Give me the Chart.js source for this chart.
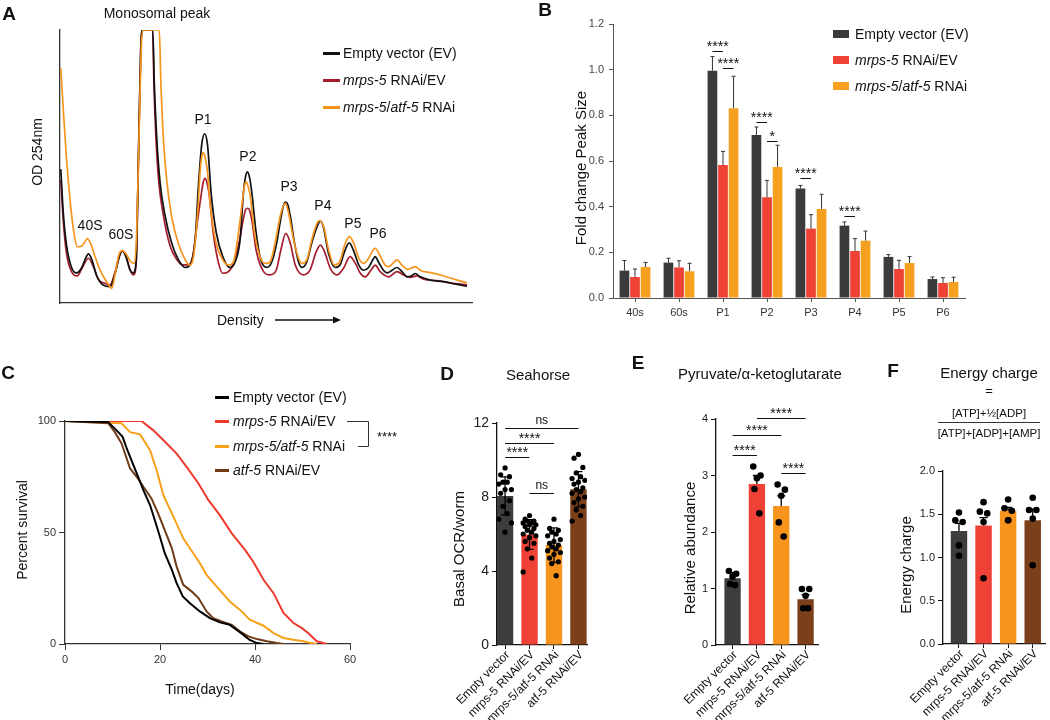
<!DOCTYPE html>
<html>
<head>
<meta charset="utf-8">
<title>Polysome / lifespan / metabolism figure</title>
<script src="https://cdn.jsdelivr.net/npm/chart.js@4.4.1/dist/chart.umd.min.js"></script>
<style>
  body { margin: 0; background: #fff; }
  #fig { position: relative; width: 1050px; height: 720px; overflow: hidden; background: #fff;
         font-family: "Liberation Sans", Arial, sans-serif; color: #111; }
  #fig canvas { position: absolute; }
  .t { position: absolute; white-space: nowrap; line-height: 1; }
  .c { transform: translate(-50%, -50%); }
  .lm { transform: translate(0, -50%); }
  .v { transform: translate(-50%, -50%) rotate(-90deg); }
  .letter { font-weight: bold; font-size: 19px; }
  .mk { position: absolute; }
  svg { position: absolute; left: 0; top: 0; }
</style>
</head>
<body>
<div id="fig">
  <canvas id="chartA" width="480" height="330" style="left:0;top:0"></canvas>
  <canvas id="chartB" width="450" height="330" style="left:530px;top:0"></canvas>
  <canvas id="chartC" width="370" height="370" style="left:0;top:340px"></canvas>
  <canvas id="chartD" width="170" height="320" style="left:430px;top:400px"></canvas>
  <canvas id="chartE" width="180" height="325" style="left:650px;top:395px"></canvas>
  <canvas id="chartF" width="180" height="260" style="left:870px;top:460px"></canvas>

  <svg width="1050" height="720">
    <!-- density arrow -->
    <line x1="275" y1="320" x2="335" y2="320" stroke="#111" stroke-width="1.5"/>
    <polygon points="333,316.5 341,320 333,323.5" fill="#111"/>
    <!-- lifespan bracket -->
    <polyline points="347,421.5 368.5,421.5 368.5,446.5 358,446.5" fill="none" stroke="#333" stroke-width="1"/>
  </svg>

  <!-- A -->
  <div class="t c letter" style="left:9px;top:13px">A</div>
  <div class="t c" style="left:157px;top:13px;font-size:14px">Monosomal peak</div>
  <div class="t v" style="left:37px;top:152px;font-size:14px">OD 254nm</div>
  <div class="t lm" style="left:217px;top:320px;font-size:14px">Density</div>
  <div class="mk" style="left:323px;top:51.5px;width:17px;height:3px;background:#111"></div>
  <div class="t lm" style="left:343px;top:53px;font-size:14px">Empty vector (EV)</div>
  <div class="mk" style="left:323px;top:78.5px;width:17px;height:3px;background:#a51d2d"></div>
  <div class="t lm" style="left:343px;top:80px;font-size:14px"><i>mrps-5</i> RNAi/EV</div>
  <div class="mk" style="left:323px;top:105.5px;width:17px;height:3px;background:#f7941d"></div>
  <div class="t lm" style="left:343px;top:107px;font-size:14px"><i>mrps-5</i>/<i>atf-5</i> RNAi</div>

  <!-- B -->
  <div class="t c letter" style="left:545px;top:9px">B</div>
  <div class="t v" style="left:580px;top:168px;font-size:15px">Fold change Peak Size</div>
  <div class="mk" style="left:833px;top:30px;width:16px;height:8px;background:#3b3b3b"></div>
  <div class="t lm" style="left:855px;top:34px;font-size:14px">Empty vector (EV)</div>
  <div class="mk" style="left:833px;top:56px;width:16px;height:8px;background:#ef4136"></div>
  <div class="t lm" style="left:855px;top:60px;font-size:14px"><i>mrps-5</i> RNAi/EV</div>
  <div class="mk" style="left:833px;top:82px;width:16px;height:8px;background:#f5a11f"></div>
  <div class="t lm" style="left:855px;top:86px;font-size:14px"><i>mrps-5</i>/<i>atf-5</i> RNAi</div>

  <!-- C -->
  <div class="t c letter" style="left:8px;top:372px">C</div>
  <div class="t v" style="left:22px;top:530px;font-size:14px">Percent survival</div>
  <div class="t c" style="left:200px;top:689px;font-size:14px">Time(days)</div>
  <div class="mk" style="left:215px;top:395.5px;width:14px;height:3px;background:#000"></div>
  <div class="t lm" style="left:233px;top:397px;font-size:14px">Empty vector (EV)</div>
  <div class="mk" style="left:215px;top:419.5px;width:14px;height:3px;background:#ee3a2e"></div>
  <div class="t lm" style="left:233px;top:421px;font-size:14px"><i>mrps-5</i> RNAi/EV</div>
  <div class="mk" style="left:215px;top:444.5px;width:14px;height:3px;background:#f7a01a"></div>
  <div class="t lm" style="left:233px;top:446px;font-size:14px"><i>mrps-5/atf-5</i> RNAi</div>
  <div class="mk" style="left:215px;top:468.5px;width:14px;height:3px;background:#6f3b17"></div>
  <div class="t lm" style="left:233px;top:470px;font-size:14px"><i>atf-5</i> RNAi/EV</div>
  <div class="t c" style="left:387px;top:436px;font-size:13px">****</div>

  <!-- D -->
  <div class="t c letter" style="left:447px;top:373px">D</div>
  <div class="t c" style="left:538px;top:374px;font-size:15px">Seahorse</div>
  <div class="t v" style="left:458px;top:549px;font-size:15px">Basal OCR/worm</div>

  <!-- E -->
  <div class="t c letter" style="left:638px;top:362px">E</div>
  <div class="t c" style="left:760px;top:373px;font-size:15px">Pyruvate/α-ketoglutarate</div>
  <div class="t v" style="left:689px;top:548px;font-size:15px">Relative abundance</div>

  <!-- F -->
  <div class="t c letter" style="left:893px;top:370px">F</div>
  <div class="t c" style="left:989px;top:372px;font-size:15px">Energy charge</div>
  <div class="t c" style="left:989px;top:390px;font-size:13px">=</div>
  <div class="t c" style="left:989px;top:414px;font-size:11.5px">[ATP]+½[ADP]</div>
  <div class="mk" style="left:938px;top:422px;width:102px;height:1px;background:#333"></div>
  <div class="t c" style="left:989px;top:434px;font-size:11.5px">[ATP]+[ADP]+[AMP]</div>
  <div class="t v" style="left:905px;top:565px;font-size:15px">Energy charge</div>
</div>

<script>
// ---------- data ----------
// A: polysome profiles, [density %, OD254 normalised to the clipped monosome peak]
const profileEV = [[0.2,0.49],[0.8,0.33],[1.6,0.21],[2.8,0.13],[4.0,0.11],[5.3,0.13],[6.1,0.16],[6.9,0.18],[7.7,0.16],[8.9,0.10],[10.1,0.07],[12.2,0.06],[13.4,0.11],[14.6,0.18],[15.2,0.19],[16.0,0.17],[17.0,0.12],[17.8,0.11],[18.5,0.16],[19.0,0.50],[19.6,0.93],[20.1,1],[22.5,1],[22.9,0.80],[23.5,0.60],[24.3,0.44],[25.5,0.32],[27.1,0.22],[28.7,0.16],[30.4,0.13],[31.6,0.14],[32.8,0.23],[33.6,0.43],[34.4,0.58],[35.1,0.62],[35.8,0.58],[36.7,0.40],[37.9,0.26],[39.5,0.17],[41.3,0.13],[42.5,0.15],[43.7,0.23],[44.5,0.40],[45.0,0.46],[45.5,0.48],[46.0,0.46],[46.6,0.40],[47.5,0.27],[48.7,0.16],[50.2,0.13],[51.4,0.15],[52.6,0.22],[53.6,0.31],[54.3,0.36],[54.8,0.37],[55.3,0.36],[56.0,0.31],[56.8,0.23],[57.9,0.15],[58.7,0.13],[59.9,0.15],[61.1,0.22],[62.4,0.28],[63.2,0.30],[63.9,0.28],[65.2,0.18],[66.8,0.13],[68.0,0.14],[69.1,0.19],[70.2,0.22],[71.3,0.19],[72.5,0.14],[73.7,0.12],[74.9,0.13],[76.0,0.16],[76.5,0.17],[77.3,0.15],[78.5,0.12],[79.4,0.11],[80.6,0.12],[81.8,0.13],[83.0,0.115],[84.2,0.096],[85.4,0.10],[86.2,0.108],[87.5,0.096],[89.9,0.084],[93.1,0.078],[96.4,0.068],[98.8,0.062]];
const profileMrps5 = [[0.2,0.45],[0.8,0.30],[1.6,0.18],[2.8,0.115],[4.2,0.099],[5.5,0.133],[6.9,0.164],[8.1,0.133],[9.3,0.087],[10.9,0.072],[12.1,0.066],[13.4,0.115],[14.6,0.18],[15.2,0.192],[16.0,0.172],[17.2,0.115],[17.8,0.103],[18.5,0.145],[19.0,0.50],[19.6,0.93],[20.1,1],[22.5,1],[22.8,0.80],[23.3,0.60],[24.0,0.44],[25.1,0.32],[26.7,0.21],[28.3,0.16],[29.8,0.14],[31.2,0.14],[32.2,0.17],[33.2,0.28],[34.3,0.40],[34.8,0.445],[35.2,0.457],[35.6,0.445],[36.2,0.40],[37.2,0.255],[38.5,0.145],[39.5,0.109],[40.9,0.115],[42.1,0.145],[43.6,0.231],[44.4,0.30],[45.0,0.34],[45.5,0.347],[46.0,0.34],[46.6,0.30],[47.6,0.194],[49.4,0.115],[51.0,0.103],[52.5,0.121],[53.6,0.194],[54.8,0.255],[55.9,0.219],[57.1,0.139],[59.1,0.103],[60.7,0.121],[62.2,0.188],[63.2,0.212],[64.2,0.188],[65.6,0.127],[67.2,0.103],[68.8,0.127],[70.4,0.17],[71.7,0.145],[72.9,0.109],[74.1,0.096],[75.5,0.121],[76.5,0.139],[77.7,0.115],[79.8,0.096],[81.8,0.115],[83.4,0.103],[85.0,0.094],[86.6,0.099],[88.3,0.087],[91.5,0.082],[95.5,0.072],[98.8,0.066]];
const profileMrps5Atf5 = [[0.2,0.86],[0.8,0.707],[1.6,0.524],[2.6,0.353],[3.4,0.255],[4.2,0.206],[5.3,0.209],[6.1,0.225],[6.6,0.236],[7.4,0.219],[8.5,0.17],[9.7,0.121],[11.3,0.078],[12.6,0.054],[13.4,0.109],[14.4,0.182],[15.2,0.192],[16.2,0.176],[17.2,0.151],[18.0,0.145],[18.6,0.255],[19.2,0.62],[19.7,0.927],[20.1,1],[24.1,1],[24.5,0.80],[25.1,0.60],[25.9,0.45],[27.1,0.316],[28.7,0.219],[30.4,0.158],[31.4,0.139],[32.4,0.17],[33.4,0.328],[34.0,0.48],[34.4,0.535],[34.8,0.551],[35.2,0.535],[35.8,0.48],[36.5,0.353],[37.9,0.219],[39.5,0.158],[40.9,0.139],[42.1,0.151],[43.3,0.255],[44.4,0.39],[44.8,0.43],[45.2,0.444],[45.6,0.43],[46.2,0.39],[47.1,0.267],[48.4,0.176],[49.8,0.145],[51.0,0.151],[52.2,0.219],[53.6,0.328],[54.7,0.365],[55.5,0.328],[56.7,0.231],[57.9,0.164],[58.7,0.145],[59.9,0.158],[61.1,0.231],[62.3,0.289],[63.0,0.302],[64.0,0.28],[65.2,0.194],[66.6,0.139],[67.9,0.151],[69.1,0.212],[70.2,0.243],[71.3,0.219],[72.5,0.164],[73.7,0.145],[74.9,0.164],[76.0,0.194],[76.5,0.2],[77.6,0.176],[78.9,0.139],[79.8,0.133],[80.8,0.145],[81.8,0.158],[83.0,0.139],[84.4,0.123],[85.4,0.129],[86.2,0.133],[87.6,0.118],[89.9,0.111],[93.1,0.099],[96.4,0.084],[98.8,0.074]];
const peakNames = ['40S', '60S', 'P1', 'P2', 'P3', 'P4', 'P5', 'P6'];

// B: fold change of peak size (mean, upper error)
const peakGroups = ['40s', '60s', 'P1', 'P2', 'P3', 'P4', 'P5', 'P6'];
const foldEV = [0.12, 0.155, 0.995, 0.714, 0.48, 0.317, 0.18, 0.083];
const foldMrps5 = [0.092, 0.134, 0.582, 0.441, 0.304, 0.206, 0.127, 0.066];
const foldMrps5Atf5 = [0.136, 0.117, 0.831, 0.574, 0.39, 0.251, 0.153, 0.07];
const errFoldEV = [0.044, 0.019, 0.062, 0.035, 0.013, 0.016, 0.01, 0.009];
const errFoldMrps5 = [0.035, 0.029, 0.06, 0.074, 0.061, 0.054, 0.038, 0.023];
const errFoldMrps5Atf5 = [0.02, 0.035, 0.14, 0.095, 0.064, 0.042, 0.028, 0.021];

// C: survival, [day, percent]
const survEV = [[0,100],[9.1,99.5],[10.5,96.6],[12.1,93],[13.3,86],[15.1,76.5],[16.5,69],[17.9,62.3],[18.9,55.6],[20,48],[21,40.7],[22.5,33.2],[23.5,27.3],[24.8,21.3],[26.3,18.3],[28.4,14.6],[30.5,11.6],[32.6,9.7],[34.7,8.6],[36.1,6.4],[37.5,4.2],[38.8,1.9],[40.4,0.4],[41.8,0]];
const survMrps5 = [[0,100],[16.1,100],[18.6,95.8],[21.1,90.6],[23.5,85.4],[25.6,79.4],[28.1,72],[30.2,64.5],[32.6,57.8],[35.1,49.6],[37.9,42.2],[39.6,37],[41.8,28.8],[43.9,22.8],[46,13.9],[48.1,9.4],[49.8,7.2],[51.2,4.9],[53,1.2],[55.1,0]];
const survMrps5Atf5 = [[0,100],[11.9,99],[13.7,95],[15.8,94],[17.9,86.9],[19.3,77.9],[20.7,66.8],[22.5,58.6],[24.9,47.4],[27,40.7],[28.4,36.2],[29.8,31],[31.9,25.8],[34.7,19.1],[36.8,15.4],[38.9,10.9],[41.8,8.2],[43.9,4.9],[46,2.7],[48.1,1.9],[50.2,1.2],[51.9,0.4],[53,0]];
const survAtf5 = [[0,100],[9.1,99],[10.5,95],[11.9,90],[13.7,78.7],[15.1,75],[16.5,70.5],[18.2,65.3],[19.6,58.6],[21,51.1],[22.5,42.9],[23.5,34.7],[24.9,26.5],[26.7,23.5],[28.1,20.6],[29.8,14.6],[31.2,11.6],[33,10.1],[35.1,8.6],[36.8,5.7],[38.6,3.4],[40.4,2.2],[42.5,1.2],[44.6,0.4],[46,0]];

// D-F: groups
const groups = ['Empty vector', 'mrps-5 RNAi/EV', 'mrps-5/atf-5 RNAi', 'atf-5 RNAi/EV'];

// D: basal OCR per worm
const ocrMean = [8.06, 5.97, 5.4, 8.42];
const ocrSD = [1.03, 0.8, 0.93, 0.95];
const ocrEV = [9.57, 9.2, 9.1, 8.8, 8.8, 8.7, 8.4, 8.4, 8.2, 7.8, 7.5, 7.1, 6.8, 6.6, 6.1];
const ocrMrps5 = [7.0, 6.8, 6.7, 6.7, 6.6, 6.6, 6.5, 6.5, 6.4, 6.3, 6.2, 6.1, 6.0, 5.9, 5.8, 5.6, 5.5, 5.2, 4.7, 3.95];
const ocrMrps5Atf5 = [6.8, 6.3, 6.2, 6.1, 6.0, 5.9, 5.7, 5.6, 5.5, 5.4, 5.3, 5.2, 5.1, 5.0, 4.9, 4.7, 4.5, 4.4, 3.75];
const ocrAtf5 = [10.3, 10.1, 9.6, 9.3, 9.1, 9.0, 8.9, 8.8, 8.7, 8.5, 8.4, 8.3, 8.2, 8.0, 7.9, 7.7, 7.5, 7.3, 7.0, 6.7];

// E: pyruvate / alpha-ketoglutarate
const pyrMean = [1.18, 2.85, 2.46, 0.81];
const pyrSEM = [0.10, 0.15, 0.18, 0.08];
const pyrEV = [1.31, 1.26, 1.21, 1.08, 1.06];
const pyrMrps5 = [3.16, 3.0, 2.95, 2.76, 2.33];
const pyrMrps5Atf5 = [2.84, 2.75, 2.64, 2.17, 1.92];
const pyrAtf5 = [0.99, 0.99, 0.87, 0.65, 0.65];

// F: energy charge
const ecMean = [1.305, 1.37, 1.54, 1.43];
const ecSEM = [0.09, 0.09, 0.04, 0.13];
const ecEV = [1.52, 1.43, 1.41, 1.14, 1.02];
const ecMrps5 = [1.64, 1.53, 1.51, 1.41, 0.76];
const ecMrps5Atf5 = [1.67, 1.57, 1.54, 1.43, 1.43];
const ecAtf5 = [1.69, 1.55, 1.55, 1.45, 0.91];

// ---------- shared ----------
const FAM = '"Liberation Sans", Arial, sans-serif';
Chart.defaults.font.family = FAM;
Chart.defaults.color = '#222';
const groupColors = ['#3d3d3d', '#ef4136', '#f7941d', '#7b4019'];
const xy = arr => arr.map(p => ({ x: p[0], y: p[1] }));
const fixW = w => s => { s.width = w; };
const fixH = h => s => { s.height = h; };
const noLegend = { legend: { display: false }, tooltip: { enabled: false } };

// error bars on bar datasets
const errorBars = {
  id: 'errorBars',
  afterDatasetsDraw(chart, args, opts) {
    const ctx = chart.ctx, y = chart.scales.y;
    (opts.sets || []).forEach(s => {
      const meta = chart.getDatasetMeta(s.ds);
      const vals = chart.data.datasets[s.ds].data;
      ctx.save();
      ctx.strokeStyle = s.color; ctx.lineWidth = s.width;
      meta.data.forEach((bar, i) => {
        const v = typeof vals[i] === 'object' ? vals[i].y : vals[i];
        const top = y.getPixelForValue(v + s.err[i]);
        const bot = s.both ? y.getPixelForValue(v - s.err[i]) : bar.y;
        ctx.beginPath();
        ctx.moveTo(bar.x, bot); ctx.lineTo(bar.x, top);
        ctx.moveTo(bar.x - s.cap, top); ctx.lineTo(bar.x + s.cap, top);
        if (s.both) { ctx.moveTo(bar.x - s.cap, bot); ctx.lineTo(bar.x + s.cap, bot); }
        ctx.stroke();
      });
      ctx.restore();
    });
  }
};

// significance lines between two bars
const sigMarks = {
  id: 'sigMarks',
  afterDraw(chart, args, opts) {
    if (!opts.items) return;
    const ctx = chart.ctx, y = chart.scales.y;
    ctx.save();
    ctx.strokeStyle = '#111'; ctx.fillStyle = '#111'; ctx.lineWidth = 1;
    ctx.textAlign = 'center'; ctx.textBaseline = 'alphabetic';
    opts.items.forEach(it => {
      const xa = chart.getDatasetMeta(it.a[0]).data[it.a[1]].x;
      const xb = chart.getDatasetMeta(it.b[0]).data[it.b[1]].x;
      const py = Math.round(y.getPixelForValue(it.y)) + 0.5;
      ctx.beginPath(); ctx.moveTo(xa, py); ctx.lineTo(xb, py); ctx.stroke();
      const star = it.text.includes('*');
      ctx.font = (star ? opts.starSize : opts.nsSize) + 'px ' + FAM;
      ctx.fillText(it.text, (xa + xb) / 2, py - (star ? 1 : 5));
    });
    ctx.restore();
  }
};

// 45 degree group labels (underscores would mark italic parts)
const slantLabels = {
  id: 'slantLabels',
  afterDraw(chart, args, opts) {
    if (!opts.labels) return;
    const ctx = chart.ctx, x = chart.scales.x;
    ctx.save();
    ctx.fillStyle = '#111'; ctx.textBaseline = 'middle'; ctx.textAlign = 'left';
    opts.labels.forEach((lab, i) => {
      const parts = lab.split('_').map((s, k) => ({ s, it: k % 2 === 1 }));
      const fontOf = p => (p.it ? 'italic ' : '') + opts.size + 'px ' + FAM;
      let w = 0;
      parts.forEach(p => { ctx.font = fontOf(p); w += ctx.measureText(p.s).width; });
      ctx.save();
      ctx.translate(x.getPixelForValue(i) + opts.dx, x.top + opts.dy);
      ctx.rotate(-Math.PI / 4);
      let cx = -w;
      parts.forEach(p => { ctx.font = fontOf(p); ctx.fillText(p.s, cx, 0); cx += ctx.measureText(p.s).width; });
      ctx.restore();
    });
    ctx.restore();
  }
};

// peak names in panel A
const peakText = {
  id: 'peakText',
  afterDatasetsDraw(chart, args, opts) {
    if (!opts.items) return;
    const { ctx, scales: { x, y } } = chart;
    ctx.save();
    ctx.font = '14px ' + FAM; ctx.fillStyle = '#111';
    ctx.textAlign = 'center'; ctx.textBaseline = 'middle';
    opts.items.forEach(it => ctx.fillText(it.text, x.getPixelForValue(it.at[0]), y.getPixelForValue(it.at[1])));
    ctx.restore();
  }
};

// ---------- A ----------
const profileLine = (data, color, order) => ({
  data: xy(data), borderColor: color, borderWidth: 1.7, pointRadius: 0,
  tension: 0.4, cubicInterpolationMode: 'monotone', order
});
const peakAt = [[7.3, 0.282], [14.8, 0.249], [34.7, 0.67], [45.6, 0.535], [55.6, 0.425], [63.8, 0.355], [71.1, 0.289], [77.2, 0.253]];
new Chart(document.getElementById('chartA'), {
  type: 'line',
  data: { datasets: [
    profileLine(profileMrps5Atf5, '#f7941d', 0),
    profileLine(profileEV, '#111', 1),
    profileLine(profileMrps5, '#a51d2d', 2)
  ] },
  plugins: [peakText],
  options: {
    responsive: false, animation: false,
    layout: { padding: { top: 30, right: 8, left: 0, bottom: 0 } },
    plugins: { ...noLegend, peakText: { items: peakNames.map((t, i) => ({ text: t, at: peakAt[i] })) } },
    scales: {
      x: { type: 'linear', min: 0, max: 100, grid: { display: false }, ticks: { display: false },
           border: { color: '#333', width: 1.3 }, afterFit: fixH(27) },
      y: { min: 0, max: 1, grid: { display: false }, ticks: { display: false },
           border: { color: '#333', width: 1.3 }, afterFit: fixW(60) }
    }
  }
});

// ---------- B ----------
const barB = (data, color) => ({ data, backgroundColor: color, categoryPercentage: 0.72, barPercentage: 0.92 });
new Chart(document.getElementById('chartB'), {
  type: 'bar',
  data: { labels: peakGroups, datasets: [
    barB(foldEV, '#3b3b3b'), barB(foldMrps5, '#ef4136'), barB(foldMrps5Atf5, '#f5a11f')
  ] },
  plugins: [errorBars, sigMarks],
  options: {
    responsive: false, animation: false,
    layout: { padding: { top: 24, right: 15 } },
    plugins: {
      ...noLegend,
      errorBars: { sets: [
        { ds: 0, err: errFoldEV, color: '#333', width: 1, cap: 2 },
        { ds: 1, err: errFoldMrps5, color: '#333', width: 1, cap: 2 },
        { ds: 2, err: errFoldMrps5Atf5, color: '#333', width: 1, cap: 2 }
      ] },
      sigMarks: { starSize: 14, nsSize: 12, items: [
        { a: [0, 2], b: [1, 2], y: 1.083, text: '****' },
        { a: [1, 2], b: [2, 2], y: 1.007, text: '****' },
        { a: [0, 3], b: [1, 3], y: 0.771, text: '****' },
        { a: [1, 3], b: [2, 3], y: 0.689, text: '*' },
        { a: [0, 4], b: [1, 4], y: 0.526, text: '****' },
        { a: [0, 5], b: [1, 5], y: 0.361, text: '****' }
      ] }
    },
    scales: {
      x: { grid: { drawOnChartArea: false, offset: false, tickLength: 4, color: '#555' },
           border: { color: '#555' }, ticks: { color: '#333', font: { size: 11 }, padding: 4 },
           afterFit: fixH(32) },
      y: { min: 0, max: 1.2, grid: { drawOnChartArea: false, tickLength: 4, color: '#555' },
           border: { color: '#555' },
           ticks: { stepSize: 0.2, color: '#444', font: { size: 11 }, padding: 5, callback: v => v.toFixed(1) },
           afterFit: fixW(83) }
    }
  }
});

// ---------- C ----------
const survLine = (data, color) => ({ data: xy(data), borderColor: color, borderWidth: 2, pointRadius: 0, tension: 0 });
new Chart(document.getElementById('chartC'), {
  type: 'line',
  data: { datasets: [
    survLine(survEV, '#000'), survLine(survAtf5, '#6f3b17'),
    survLine(survMrps5Atf5, '#f7a01a'), survLine(survMrps5, '#ee3a2e')
  ] },
  options: {
    responsive: false, animation: false,
    layout: { padding: { top: 81, right: 20 } },
    plugins: noLegend,
    scales: {
      x: { type: 'linear', min: 0, max: 60,
           ticks: { stepSize: 20, font: { size: 11 }, color: '#333', padding: 3 },
           grid: { drawOnChartArea: false, tickLength: 6, color: '#333' },
           border: { color: '#333', width: 1.3 }, afterFit: fixH(66) },
      y: { min: 0, max: 100,
           ticks: { stepSize: 50, font: { size: 11 }, color: '#333', padding: 3 },
           grid: { drawOnChartArea: false, tickLength: 6, color: '#333' },
           border: { color: '#333', width: 1.3 }, afterFit: fixW(65) }
    }
  }
});

// ---------- D, E, F ----------
function dotPanel(id, o) {
  const pts = [];
  o.dots.forEach((arr, i) => arr.forEach((v, j) => pts.push({ x: i + o.jitter[j % o.jitter.length], y: v })));
  return new Chart(document.getElementById(id), {
    type: 'bar',
    data: { datasets: [
      { type: 'scatter', data: pts, pointRadius: o.r, pointBackgroundColor: '#000', pointBorderWidth: 0, order: 0 },
      { type: 'bar', data: o.means.map((v, i) => ({ x: i, y: v })), backgroundColor: groupColors,
        categoryPercentage: 1, barPercentage: 0.67, order: 1 }
    ] },
    plugins: [errorBars, sigMarks, slantLabels],
    options: {
      responsive: false, animation: false,
      layout: { padding: { top: o.padTop, right: o.padRight } },
      plugins: {
        ...noLegend,
        errorBars: { sets: [{ ds: 1, err: o.err, both: o.both, color: '#000', width: 1.3, cap: 4 }] },
        sigMarks: { starSize: 14, nsSize: 12, items: (o.sig || []).map(s => ({ a: [1, s[0]], b: [1, s[1]], y: s[2], text: s[3] })) },
        slantLabels: { labels: groups, size: 12, dx: 3, dy: 8 }
      },
      scales: {
        x: { type: 'linear', min: o.xMin, max: o.xMax, offset: false,
             afterBuildTicks: s => { s.ticks = groups.map((g, i) => ({ value: i })); },
             ticks: { display: false },
             grid: { drawOnChartArea: false, offset: false, tickLength: 4, color: '#111' },
             border: { color: '#111', width: 1.3 }, afterFit: fixH(o.xH) },
        y: { min: 0, max: o.yMax,
             ticks: { stepSize: o.step, font: { size: o.tickSize }, color: '#222', padding: 3, callback: o.fmt },
             grid: { drawOnChartArea: false, tickLength: 5, color: '#111' },
             border: { color: '#111', width: 1.3 }, afterFit: fixW(o.yW) }
      }
    }
  });
}

dotPanel('chartD', {
  means: ocrMean, err: ocrSD, both: true,
  dots: [ocrEV, ocrMrps5, ocrMrps5Atf5, ocrAtf5], r: 2.6,
  jitter: [0, -0.18, 0.18, -0.09, 0.09, -0.26, 0.26],
  sig: [[0, 3, 11.74, 'ns'], [0, 2, 10.94, '****'], [0, 1, 10.16, '****'], [1, 2, 8.24, 'ns']],
  padTop: 23, padRight: 13, yW: 67, xH: 75, xMin: -0.33, xMax: 3.35,
  yMax: 12, step: 4, tickSize: 14, fmt: v => v
});

dotPanel('chartE', {
  means: pyrMean, err: pyrSEM, both: false,
  dots: [pyrEV, pyrMrps5, pyrMrps5Atf5, pyrAtf5], r: 3.3,
  jitter: [-0.15, 0.15, 0, -0.1, 0.1],
  sig: [[1, 3, 4.02, '****'], [0, 2, 3.71, '****'], [0, 1, 3.36, '****'], [2, 3, 3.05, '****']],
  padTop: 24, padRight: 12, yW: 66, xH: 75, xMin: -0.68, xMax: 3.51,
  yMax: 4, step: 1, tickSize: 11, fmt: v => v
});

dotPanel('chartF', {
  means: ecMean, err: ecSEM, both: false,
  dots: [ecEV, ecMrps5, ecMrps5Atf5, ecAtf5], r: 3.3,
  jitter: [0, -0.15, 0.15, 0, 0],
  padTop: 11, padRight: 5, yW: 73, xH: 76, xMin: -0.65, xMax: 3.5,
  yMax: 2, step: 0.5, tickSize: 11, fmt: v => v.toFixed(1)
});
</script>
</body>
</html>
